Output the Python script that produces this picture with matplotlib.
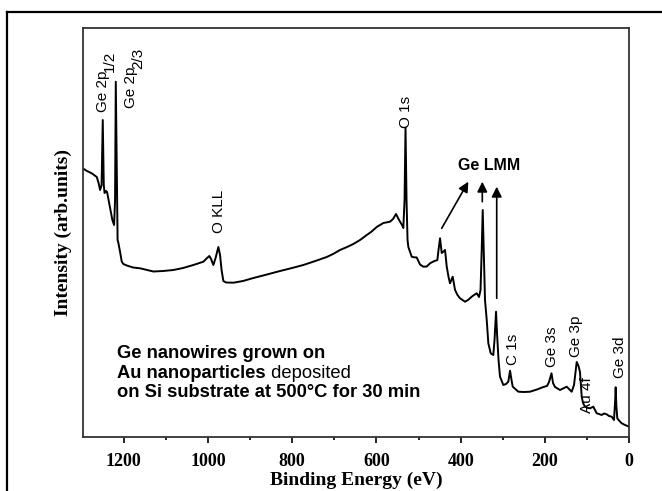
import matplotlib
matplotlib.use("Agg")
import matplotlib.pyplot as plt
from matplotlib.lines import Line2D

# Binding energy (eV) and intensity (arb. units)
energy = [1297, 1287, 1275.5, 1270, 1263.6, 1259.3, 1255.7, 1252.2, 1249.4, 1247, 1245.1,
          1241.5, 1239.2, 1232, 1226.6, 1222.5, 1220.2, 1218.5, 1216.6, 1214.2, 1212.3,
          1208.3, 1204.3, 1200.5, 1192.4, 1177.5, 1160.9, 1144.3, 1129.3, 1106.3, 1081.9,
          1058.8, 1034.4, 1010.7, 1001.9, 996.5, 992.4, 987, 981.7, 975.1, 971.1, 967.5,
          963.2, 956.8, 939.5, 916.5, 892, 864.3, 828.7, 800.2, 773.4, 741.6, 717.9, 703,
          686.4, 669.8, 654.8, 638.9, 623, 612.8, 599.3, 583.6, 567.7, 560.6, 553.5, 548.8,
          544, 539.3, 536.2, 533.3, 531, 528.6, 526.2, 524.3, 520.3, 516.3, 510.8, 504.4,
          500.6, 496.6, 488.7, 480.7, 472.8, 465, 455.5, 452.7, 449.1, 445.1, 441.3, 437.2,
          433.2, 428.9, 425.4, 419, 413.5, 407.6, 401.7, 389.8, 382.7, 373.9, 368.4, 362,
          356.6, 353, 350.2, 347.8, 345.4, 342.4, 338.3, 334.5, 328.8, 322.7, 319.8, 316.2,
          313.9, 310.3, 306.8, 298.9, 292.5, 287.1, 283, 279.5, 276.6, 263.3, 249.8, 235.6,
          219, 204, 195.3, 190.5, 184.6, 181, 176.3, 164.4, 154.9, 148.5, 143.1, 136.7,
          131.2, 124.8, 120.5, 117, 112.9, 109.8, 105.1, 98, 93.2, 85.4, 77.3, 71.9, 65.5,
          60, 53.6, 48.2, 41.8, 36.3, 33.5, 32.3, 30.8, 28.5, 23.3, 18, 10.2, 0]
intensity = [268.2, 265.5, 263.2, 261.5, 259.5, 253.5, 246.5, 251.5, 316.5, 251.5, 243.5,
             245.5, 244.5, 228.5, 216.5, 211.5, 236.5, 354.8, 286.5, 196.5, 193.5,
             184.5, 174.8, 172.5, 171, 169, 168.2, 166.5, 165, 165.5, 166.5,
             168.5, 171.5, 174.8, 178.5, 180.5, 177.5, 171.5, 178.5, 189.5, 181.5, 166.5,
             155.5, 154, 153.8, 155.5, 158.5, 161.5, 165.5, 168.5, 171.5, 176, 179.5, 182.5,
             186.5, 189.5, 192.5, 196.5, 201.5, 204.5, 209.5, 213.5, 214.8, 217.5, 222.5, 218.5,
             214.8, 211.5, 208.5, 236.5, 308.5, 236.5, 196.5, 189.5, 184.5, 179.8, 179.2, 179,
             175.5, 172, 169.8, 170, 173.2, 175, 176.5, 186.5, 198.2, 183.5, 184.8, 186.5,
             169.8, 159.5, 153.2, 159.8, 146.5, 141.5, 138.2, 134.8, 136.5, 139.8, 141.5, 143.2,
             139.5, 146.5, 186.5, 226.5, 186.5, 136.5, 116.5, 93.2, 83.2, 81.5, 96.5, 124.8,
             103.5, 76.5, 59.8, 51.5, 52.5, 54.8, 65.8, 56.5, 49.8, 44.8, 44.5, 44.8,
             47, 49.5, 50.5, 54.5, 63.2, 53.5, 49.5, 46.5, 48.5, 49.8, 47.5, 44.8,
             51.5, 74.5, 70.5, 64.5, 39.8, 33.5, 29.8, 28.5, 28.2, 29.8, 23.2, 22.5, 21.5,
             23, 22.2, 20.5, 19.8, 16.5, 36.5, 49.2, 31.5, 18.2, 15.5, 13.2, 11.5, 9.8]

# Peak labels: (text, subscript, energy, intensity at label base)
peak_labels = [
    ("Ge 2p", "1/2", 1250.0, 324.5),
    ("Ge 2p", "2/3", 1181.5, 328.0),
    ("O KLL", "", 973.4, 203.5),
    ("O 1s", "", 529.8, 308.5),
    ("C 1s", "", 277.1, 71.5),
    ("Ge 3s", "", 183.4, 69.8),
    ("Ge 3p", "", 125.3, 79.8),
    ("Au 4f", "", 100.0, 23.5),
    ("Ge 3d", "", 20.9, 58.2),
]

# Ge LMM arrows: (start energy, start intensity, end energy, end intensity)
lmm_arrows = [
    (445.1, 208.2, 382.0, 254.8),
    (348.8, 234.8, 348.8, 254.8),
    (314.6, 138.2, 314.6, 249.8),
]

xticks = [1200, 1000, 800, 600, 400, 200, 0]
xminor = [1100, 900, 700, 500, 300, 100]

W, H = 662, 491
fig = plt.figure(figsize=(W / 100, H / 100), dpi=100)
ax = fig.add_axes([82.7 / W, 1 - 436.5 / H, (629.3 - 82.7) / W, (436.5 - 28.0) / H])

ax.plot(energy, intensity, color="black", lw=1.4, solid_joinstyle="round")
ax.set_xlim(1297, 0)
ax.set_ylim(0, 408.5)

ax.set_xticks(xticks)
ax.set_xticks(xminor, minor=True)
ax.set_xticklabels([str(t) for t in xticks], fontfamily="Liberation Serif",
                   fontweight="bold", fontsize=13)
ax.set_yticks([])
ax.tick_params(axis="x", which="major", direction="out", length=4.2, width=1.2,
               pad=8, top=False)
ax.tick_params(axis="x", which="minor", direction="out", length=2.5, width=1.2, top=False)
for sp in ax.spines.values():
    sp.set_linewidth(1.3)
    sp.set_color("#333333")

ax.set_xlabel("Binding Energy (eV)", fontfamily="Liberation Serif", fontweight="bold",
              fontsize=14, labelpad=1)
ax.set_ylabel("Intensity (arb.units)", fontfamily="Liberation Serif", fontweight="bold",
              fontsize=14, labelpad=8)

for txt, sub, e, i in peak_labels:
    t = ax.text(e, i, txt, rotation=90, ha="center", va="bottom",
                fontfamily="Liberation Sans", fontsize=11)
    if sub:
        ax.annotate(sub, xy=(0.5, 1), xycoords=t, xytext=(5, -1),
                    textcoords="offset points", rotation=90, ha="center", va="bottom",
                    fontfamily="Liberation Sans", fontsize=11)

ax.text(406.4, 266.5, "Ge LMM", ha="left", va="baseline",
        fontfamily="Liberation Sans", fontweight="bold", fontsize=11.5)
for x0, y0, x1, y1 in lmm_arrows:
    ax.annotate("", xy=(x1, y1), xytext=(x0, y0),
                arrowprops=dict(arrowstyle="-|>", color="black", lw=1.2,
                                mutation_scale=15, shrinkA=0, shrinkB=0))

sans = dict(fontfamily="Liberation Sans", fontsize=13.2)
ax.text(1215.4, 78.5, "Ge nanowires grown on", ha="left", va="baseline",
        fontweight="bold", **sans)
t2 = ax.text(1215.4, 59.0, "Au nanoparticles", ha="left", va="baseline",
             fontweight="bold", **sans)
ax.annotate(" deposited", xy=(1, 0), xycoords=t2, ha="left", va="bottom",
            fontweight="normal", **sans)
ax.text(1215.4, 39.8, "on Si substrate at 500\u00b0C for 30 min", ha="left",
        va="baseline", fontweight="bold", **sans)

# Outer frame lines
fig.add_artist(Line2D([7 / W, 1.0], [1 - 12 / H, 1 - 12 / H], color="black", lw=1.6,
                      transform=fig.transFigure))
fig.add_artist(Line2D([7 / W, 7 / W], [0, 1 - 12 / H], color="black", lw=1.6,
                      transform=fig.transFigure))

fig.savefig("out.png", dpi=100)
